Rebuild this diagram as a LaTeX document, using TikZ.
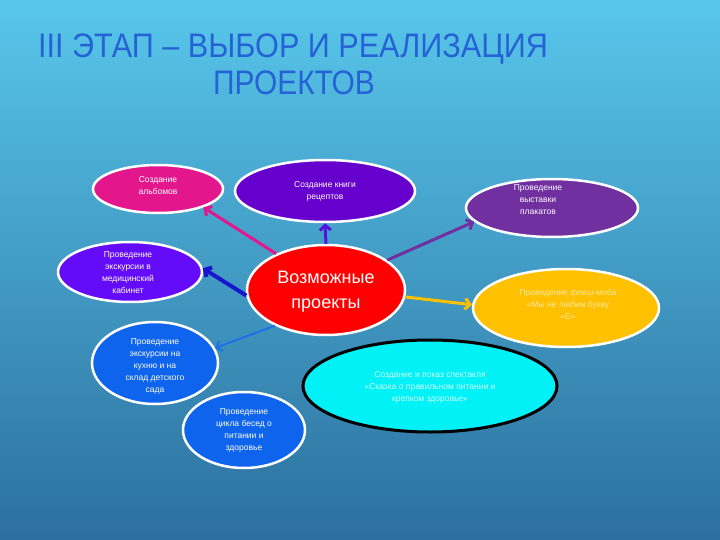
\documentclass[tikz,border=0pt]{standalone}
\usepackage{fontspec}
\setmainfont{Liberation Sans}
\usetikzlibrary{shapes.geometric,arrows.meta}
\definecolor{bgtop}{RGB}{88,198,234}
\definecolor{bgbot}{RGB}{44,112,158}
\definecolor{titleblue}{RGB}{36,98,214}
\definecolor{cpink}{RGB}{228,22,140}
\definecolor{cviolet}{RGB}{102,0,204}
\definecolor{cpurple}{RGB}{112,48,160}
\definecolor{cblueviolet}{RGB}{100,12,250}
\definecolor{cred}{RGB}{255,0,0}
\definecolor{cyellow}{RGB}{255,192,0}
\definecolor{cblue}{RGB}{14,100,236}
\definecolor{ccyan}{RGB}{0,242,246}
\definecolor{aviolet}{RGB}{84,20,224}
\definecolor{adblue}{RGB}{22,22,204}
\definecolor{alblue}{RGB}{30,112,232}
\definecolor{tyellow}{RGB}{255,232,160}
\definecolor{tcyan}{RGB}{205,255,255}
\begin{document}
\begin{tikzpicture}[x=1pt,y=-1pt,
  ell/.style={ellipse, draw=white, line width=2.5pt, inner sep=0pt},
  txt/.style={align=center, text=white, inner sep=0pt, font=\fontsize{8.5}{12}\selectfont},
  arr/.style={line width=3pt, -{Straight Barb[length=5pt,width=11pt]}}]
\useasboundingbox (0,0) rectangle (720,540);
\shade[top color=bgtop, bottom color=bgbot] (0,0) rectangle (720,540);
% title
\node[anchor=base west, inner sep=0pt, text=titleblue, font=\fontsize{34}{40}\selectfont] (title1) at (38,58) {\scalebox{0.9}[1]{III ЭТАП – ВЫБОР И РЕАЛИЗАЦИЯ}};
\node[anchor=base west, inner sep=0pt, text=titleblue, font=\fontsize{34}{40}\selectfont] (title2) at (213,95) {\scalebox{0.88}[1]{ПРОЕКТОВ}};
% ellipses
\node[ell, fill=cpink, minimum width=130pt, minimum height=48pt] (e1) at (158,189) {};
\node[txt] (t1) at (158,186) {Создание\\альбомов};
\node[ell, fill=cviolet, minimum width=180pt, minimum height=62pt] (e2) at (325,191) {};
\node[txt] (t2) at (325,191) {Создание книги\\рецептов};
\node[ell, fill=cpurple, minimum width=172pt, minimum height=58pt] (e3) at (552,208) {};
\node[txt] (t3) at (538,200) {Проведение\\выставки\\плакатов};
\node[ell, fill=cblueviolet, minimum width=144pt, minimum height=60pt] (e4) at (130,272) {};
\node[txt] (t4) at (128,273) {Проведение\\экскурсии в\\медицинский\\кабинет};
\node[ell, fill=cyellow, minimum width=186pt, minimum height=78pt] (e6) at (566,308) {};
\node[txt, text=tyellow] (t6) at (568,304) {Проведение флеш-моба\\«Мы не любим букву\\«Е»};
\node[ell, fill=cblue, minimum width=126pt, minimum height=82pt] (e7) at (155,363) {};
\node[txt] (t7) at (155,366) {Проведение\\экскурсии на\\кухню и на\\склад детского\\сада};
\node[ell, draw=black, line width=3pt, fill=ccyan, minimum width=254pt, minimum height=92pt] (e8) at (430,386) {};
\node[txt, text=tcyan] (t8) at (430,387) {Создание и показ спектакля\\«Сказка о правильном питании и\\крепком здоровье»};
\node[ell, fill=cblue, minimum width=122pt, minimum height=76pt] (e9) at (244,430) {};
\node[txt] (t9) at (244,430) {Проведение\\цикла бесед о\\питании и\\здоровье};
\node[ell, fill=cred, minimum width=158pt, minimum height=90pt] (e5) at (326,290) {};
\node[align=center, text=white, inner sep=0pt, font=\fontsize{18}{25}\selectfont] (t5) at (326,292) {Возможные\\проекты};
% arrows
\draw[arr, cpink] (e5.144) -- (e1.-22);
\draw[arr, aviolet] (e5.90) -- (e2.-90);
\draw[arr, cpurple] (e5.26) -- (e3.190);
\draw[arr, adblue, line width=4pt] (e5.184) -- (e4.3);
\draw[arr, alblue, line width=2pt] (e5.215) -- (e7.14);
\draw[arr, cyellow] (e5.-5) -- (e6.178);
\end{tikzpicture}
\end{document}
